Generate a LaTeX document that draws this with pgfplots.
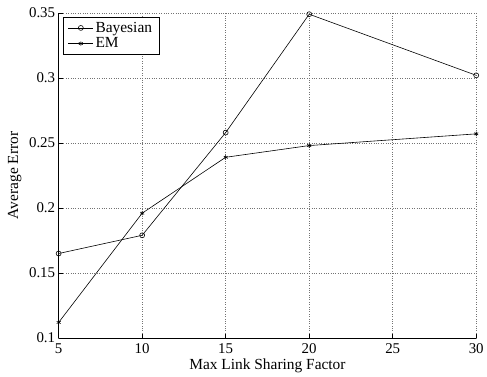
\documentclass[border=0pt]{standalone}
\usepackage{pgfplots}
\pgfplotsset{compat=1.18}
\usepackage{fontspec}
\setmainfont{Liberation Serif}
\begin{document}
\begin{tikzpicture}
\begin{axis}[
  scale only axis,
  width=420pt, height=327pt,
  xmin=5, xmax=30, ymin=0.1, ymax=0.35,
  xtick={5,10,15,20,25,30},
  ytick={0.1,0.15,0.2,0.25,0.3,0.35},
  yticklabel style={/pgf/number format/fixed, /pgf/number format/precision=2},
  /pgf/number format/assume math mode=true,
  axis lines*=left,
  axis line style={black, line width=0.6pt, -},
  tick align=inside,
  tick style={black, line width=0.5pt},
  major tick length=4pt,
  grid=major,
  grid style={dotted, black!55, line width=0.5pt},
  ticklabel style={font=\fontsize{15}{17}\selectfont},
  xticklabel style={yshift=-2pt},
  xlabel={Max Link Sharing Factor},
  ylabel={Average Error},
  label style={font=\fontsize{15.5}{17}\selectfont},
  xlabel style={at={(axis description cs:0.5,0)}, anchor=base, yshift=-32pt},
  ylabel style={at={(axis description cs:-0.105,0.5)}, anchor=center},
  legend style={font=\fontsize{15.5}{17}\selectfont, draw=black, line width=0.6pt, at={(axis description cs:0.01,0.988)}, anchor=north west, inner xsep=5pt, inner ysep=3pt, row sep=0pt,
    /tikz/every even column/.append style={column sep=4pt},
    legend image code/.code={\draw[mark repeat=2,mark phase=2,#1] plot coordinates {(0cm,0cm) (0.44cm,0cm) (0.88cm,0cm)};}},
  legend cell align=left,
  clip=false,
]
\addplot[black, line width=0.6pt, mark=o, mark size=2.5pt, mark options={solid}] coordinates {
  (5,0.165) (10,0.179) (15,0.258) (20,0.349) (30,0.302)
};
\addlegendentry{Bayesian}
\addplot[black, line width=0.6pt, mark=asterisk, mark size=2.3pt, mark options={solid}] coordinates {
  (5,0.112) (10,0.196) (15,0.239) (20,0.248) (30,0.257)
};
\addlegendentry{EM}
\path[use as bounding box] (rel axis cs:0,0) ++(-59pt,-35pt) rectangle ++(487pt,375pt);
\end{axis}
\end{tikzpicture}
\end{document}
